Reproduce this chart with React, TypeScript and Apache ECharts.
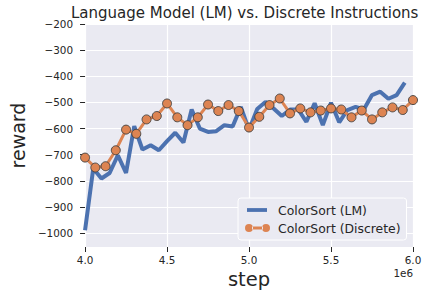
import React, { useEffect, useRef } from "react";
import * as echarts from "echarts";

const titleText = "Language Model (LM) vs. Discrete Instructions";
const xName = "step";
const yName = "reward";
const xExponent = "1e6";
const lmName = "ColorSort (LM)";
const discreteName = "ColorSort (Discrete)";

// steps in millions
const lmSteps = [
  4.0, 4.05, 4.1, 4.15, 4.2, 4.25, 4.3, 4.35, 4.4, 4.45,
  4.5, 4.55, 4.6, 4.65, 4.7, 4.75, 4.8, 4.85, 4.9, 4.95,
  5.0, 5.05, 5.1, 5.15, 5.2, 5.25, 5.3, 5.35, 5.4, 5.45,
  5.5, 5.55, 5.6, 5.65, 5.7, 5.75, 5.8, 5.85, 5.9, 5.95,
];
const lmReward = [
  -989, -753, -791, -770, -702, -770, -591, -680, -664, -683,
  -648, -616, -653, -527, -600, -613, -610, -587, -592, -517,
  -605, -525, -498, -523, -552, -527, -527, -574, -503, -587,
  -501, -576, -529, -517, -527, -472, -459, -486, -472, -424,
];
const discreteSteps = [
  4.0, 4.0625, 4.125, 4.1875, 4.25, 4.3125, 4.375, 4.4375,
  4.5, 4.5625, 4.625, 4.6875, 4.75, 4.8125, 4.875, 4.9375,
  5.0, 5.0625, 5.125, 5.1875, 5.25, 5.3125, 5.375, 5.4375,
  5.5, 5.5625, 5.625, 5.6875, 5.75, 5.8125, 5.875, 5.9375, 6.0,
];
const discreteReward = [
  -711, -749, -744, -683, -604, -620, -565, -552,
  -504, -557, -587, -557, -508, -533, -510, -533,
  -596, -555, -510, -485, -542, -523, -538, -531,
  -523, -527, -557, -531, -565, -538, -519, -529, -491,
];
const yTicks = [-1000, -900, -800, -700, -600, -500, -400, -300, -200];

const FONT = "DejaVu Sans";
const DARK = "#262626";
const BLUE = "#4c72b0";
const ORANGE = "#dd8452";
const BG = "#eaeaf2";

export default function App() {
  const ref = useRef<HTMLDivElement>(null);
  useEffect(() => {
    const chart = echarts.init(ref.current!, null, { renderer: "svg" });
    const lmData = lmSteps.map((s, i) => [s, lmReward[i]]);
    const discreteData = discreteSteps.map((s, i) => [s, discreteReward[i]]);
    chart.setOption({
      animation: false,
      backgroundColor: "#ffffff",
      textStyle: { fontFamily: FONT },
      title: {
        text: titleText,
        left: 71,
        top: 5,
        padding: 0,
        textStyle: { fontFamily: FONT, fontSize: 15, fontWeight: "normal", color: DARK },
      },
      grid: {
        left: 79,
        top: 24,
        right: 16,
        bottom: 51,
        show: true,
        backgroundColor: BG,
        borderWidth: 0,
      },
      xAxis: {
        type: "value",
        min: 4,
        max: 6,
        interval: 0.5,
        name: xName,
        nameLocation: "middle",
        nameGap: 21,
        nameTextStyle: { fontFamily: FONT, fontSize: 19.5, color: DARK },
        axisLine: { show: false },
        axisTick: { show: true, length: 5, lineStyle: { color: DARK, width: 1 } },
        axisLabel: {
          margin: 8,
          fontFamily: FONT,
          fontSize: 10.4,
          color: DARK,
          formatter: (v: number) => v.toFixed(1),
        },
        splitLine: { show: true, lineStyle: { color: "#ffffff", width: 1.2 } },
      },
      yAxis: {
        type: "value",
        min: -1053,
        max: -200,
        name: yName,
        nameLocation: "middle",
        nameRotate: 90,
        nameGap: 52,
        nameTextStyle: { fontFamily: FONT, fontSize: 19, color: DARK },
        axisLine: { show: false },
        axisTick: {
          show: true,
          length: 5,
          customValues: yTicks,
          lineStyle: { color: DARK, width: 1 },
        },
        axisLabel: {
          margin: 12,
          fontFamily: FONT,
          fontSize: 10.4,
          color: DARK,
          customValues: yTicks,
          formatter: (v: number) => (v < 0 ? "\u2212" + Math.abs(v) : String(v)),
        },
        splitLine: { show: true, lineStyle: { color: "#ffffff", width: 1.2 } },
      },
      legend: {
        orient: "vertical",
        left: 238,
        top: 198,
        padding: [5, 6, 5, 7],
        itemGap: 4,
        itemWidth: 25,
        itemHeight: 8,
        symbolKeepAspect: false,
        backgroundColor: BG,
        borderColor: "#ffffff",
        borderWidth: 1,
        borderRadius: 3,
        textStyle: {
          fontFamily: FONT,
          fontSize: 12.4,
          color: DARK,
          lineHeight: 14,
          padding: [0, 0, 0, 3],
        },
        data: [
          {
            name: lmName,
            icon: "path://M0,0L0,0M25,8L25,8M2,2.1L22,2.1L22,5.9L2,5.9Z",
            itemStyle: { color: BLUE, borderWidth: 0 },
          },
          {
            name: discreteName,
            icon:
              "path://M0,4A4,4 0 1,0 8,4A4,4 0 1,0 0,4ZM17,4A4,4 0 1,0 25,4A4,4 0 1,0 17,4ZM7,2.5L18,2.5L18,5.5L7,5.5Z",
            itemStyle: { color: ORANGE, borderWidth: 0 },
          },
        ],
      },
      graphic: [
        {
          type: "text",
          right: 16,
          top: 268,
          style: { text: xExponent, fontFamily: FONT, fontSize: 10.4, fill: DARK },
        },
      ],
      series: [
        {
          name: lmName,
          type: "line",
          data: lmData,
          showSymbol: false,
          symbol: "none",
          clip: false,
          lineStyle: { color: BLUE, width: 4 },
          itemStyle: { color: BLUE },
          z: 2,
        },
        {
          name: discreteName,
          type: "line",
          data: discreteData,
          symbol: "circle",
          symbolSize: 9,
          showSymbol: true,
          clip: false,
          lineStyle: { color: ORANGE, width: 3 },
          itemStyle: { color: ORANGE, borderColor: "#404040", borderWidth: 0.9 },
          z: 3,
        },
      ],
    });
    return () => chart.dispose();
  }, []);
  return (
    <div
      ref={ref}
      style={{ position: "fixed", left: 0, top: 0, width: 429, height: 298 }}
    />
  );
}
